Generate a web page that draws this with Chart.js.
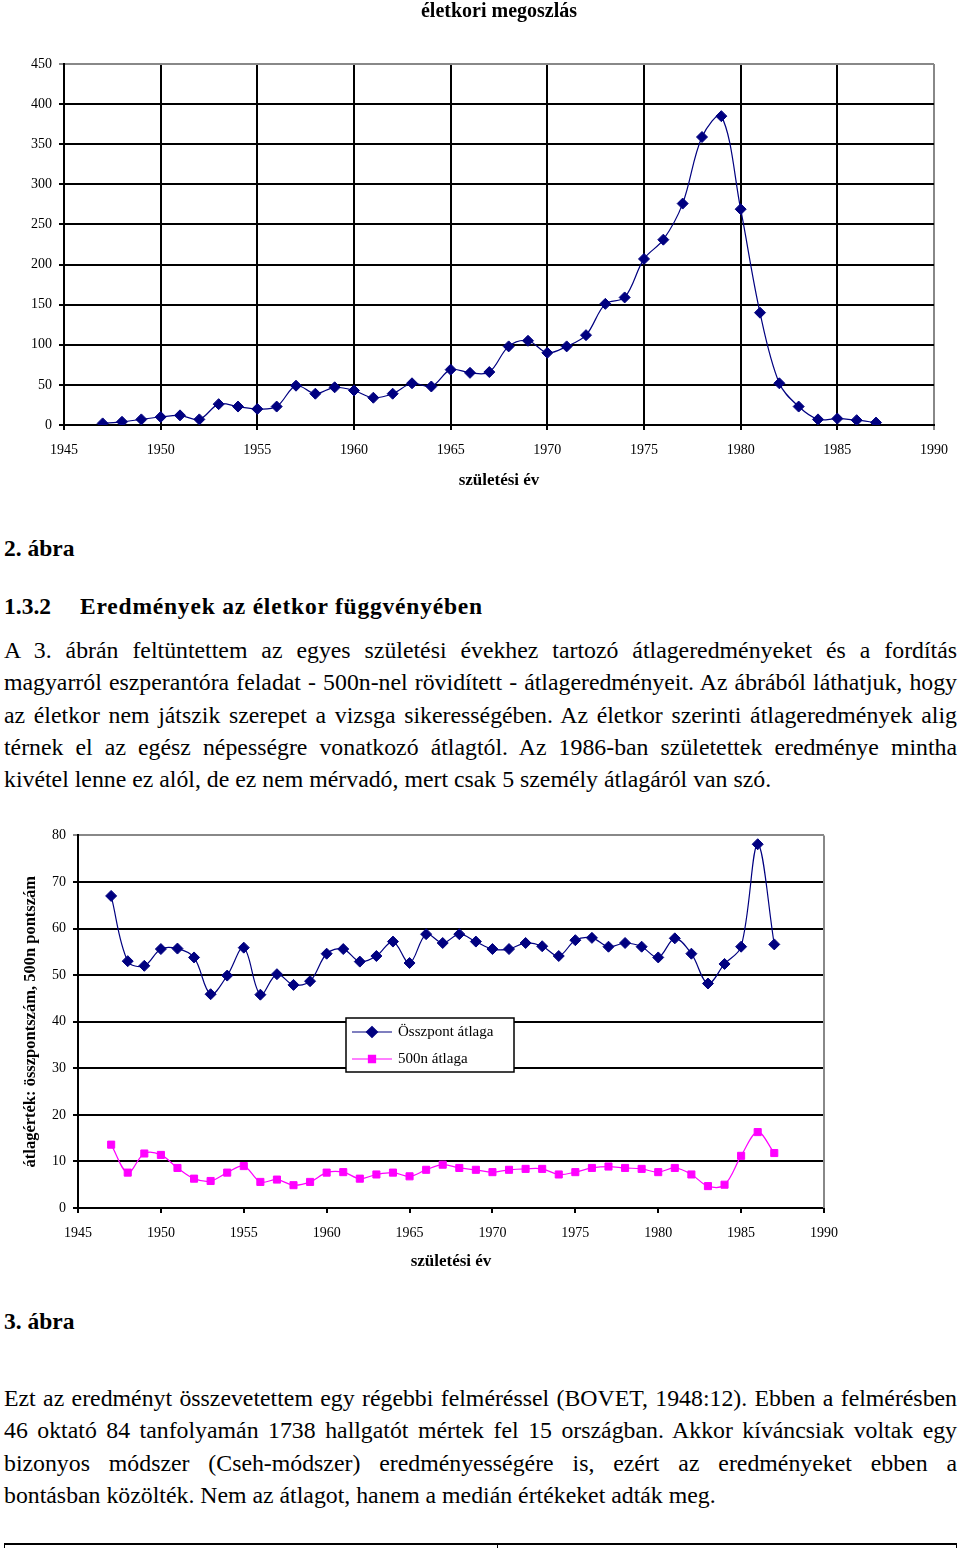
<!DOCTYPE html>
<html>
<head>
<meta charset="utf-8">
<script src="https://cdn.jsdelivr.net/npm/chart.js@4"></script>
<style>
 body{margin:0;background:#fff;width:960px;height:1550px;position:relative;font-family:"Liberation Serif","Times New Roman",serif;color:#000;}
 .abs{position:absolute;}
 #c1wrap{left:0;top:0;width:960px;height:500px;}
 #c2wrap{left:0;top:820px;width:960px;height:470px;}
 .cap{font-weight:bold;font-size:23.5px;line-height:28px;left:4px;}
 .para{left:4px;width:953px;font-size:23.8px;line-height:32.3px;}
 .para div{white-space:nowrap;text-align:justify;text-align-last:justify;}
 .para div.last{text-align-last:left;}
 #rule{left:4px;top:1543px;width:953px;height:0;border-top:2px solid #000;}
 .tk{top:1543px;width:1px;height:5px;background:#000;}
</style>
</head>
<body>
<div id="c1wrap" class="abs"><canvas id="ageChart"></canvas></div>

<div class="abs cap" style="top:534px">2. ábra</div>
<div class="abs cap" style="top:592px">1.3.2<span style="position:absolute;left:76px;white-space:nowrap;letter-spacing:0.8px">Eredmények az életkor függvényében</span></div>

<div class="abs para" style="top:634px">
 <div>A 3. ábrán feltüntettem az egyes születési évekhez tartozó átlageredményeket és a fordítás</div>
 <div>magyarról eszperantóra feladat - 500n-nel rövidített - átlageredményeit. Az ábrából láthatjuk, hogy</div>
 <div>az életkor nem játszik szerepet a vizsga sikerességében. Az életkor szerinti átlageredmények alig</div>
 <div>térnek el az egész népességre vonatkozó átlagtól. Az 1986-ban születettek eredménye mintha</div>
 <div class="last">kivétel lenne ez alól, de ez nem mérvadó, mert csak 5 személy átlagáról van szó.</div>
</div>

<div id="c2wrap" class="abs"><canvas id="scoreChart"></canvas></div>

<div class="abs cap" style="top:1307px">3. ábra</div>

<div class="abs para" style="top:1382px">
 <div>Ezt az eredményt összevetettem egy régebbi felméréssel (BOVET, 1948:12). Ebben a felmérésben</div>
 <div>46 oktató 84 tanfolyamán 1738 hallgatót mértek fel 15 országban. Akkor kíváncsiak voltak egy</div>
 <div>bizonyos módszer (Cseh-módszer) eredményességére is, ezért az eredményeket ebben a</div>
 <div class="last">bontásban közölték. Nem az átlagot, hanem a medián értékeket adták meg.</div>
</div>

<div id="rule" class="abs"></div>
<div class="abs tk" style="left:4px"></div>
<div class="abs tk" style="left:497px"></div>
<div class="abs tk" style="left:956px"></div>

<script>
// születési évek
const years=[1947,1948,1949,1950,1951,1952,1953,1954,1955,1956,1957,1958,1959,1960,1961,1962,1963,1964,1965,1966,1967,
 1968,1969,1970,1971,1972,1973,1974,1975,1976,1977,1978,1979,1980,1981,1982,1983,1984,1985,1986,1987];
// 2. ábra: létszám évenként
const counts=[2,4,7,10,12,7,26,23,20,23,49,39,47,43,34,39,52,48,69,65,66,
 98,105,90,98,112,151,159,207,231,276,359,385,269,140,52,23,7,8,6,3];
// 3. ábra
const totalAvg=[67.0,53.0,52.0,55.6,55.7,53.8,45.9,49.9,55.9,45.8,50.2,47.9,48.7,54.6,55.6,52.9,54.1,57.2,52.6,58.8,56.9,
 58.8,57.2,55.6,55.6,56.9,56.2,54.1,57.5,58.0,56.1,56.9,56.1,53.8,57.9,54.6,48.2,52.4,56.1,78.1,56.6];
const avg500=[13.6,7.6,11.7,11.4,8.6,6.3,5.8,7.6,9.0,5.6,6.1,4.9,5.6,7.6,7.7,6.3,7.2,7.6,6.8,8.2,9.3,
 8.6,8.2,7.7,8.2,8.4,8.4,7.2,7.7,8.6,8.9,8.6,8.4,7.7,8.6,7.2,4.7,5.0,11.2,16.3,11.8];
const seriesNames=["Összpont átlaga","500n átlaga"];
const yTicks1=[0,50,100,150,200,250,300,350,400,450];
const yTicks2=[0,10,20,30,40,50,60,70,80];
const xTicks=[1945,1950,1955,1960,1965,1970,1975,1980,1985,1990];

const navy="#000080";
const pink="#ff00ff";
const serif='"Liberation Serif","Times New Roman",serif';
const tickFont={family:serif,size:14};
const boldFont={family:serif,size:17,weight:"bold"};

function pts(vals){return years.map((y,i)=>({x:y,y:vals[i]}));}

function xScale(gridOnArea,height){
 return {
  type:"linear",min:1945,max:1990,
  afterBuildTicks:s=>{s.ticks=xTicks.map(v=>({value:v}));},
  afterFit:s=>{s.height=height;},
  ticks:{color:"#000",font:tickFont,padding:12,maxRotation:0,autoSkip:false,callback:v=>String(v)},
  grid:{drawOnChartArea:gridOnArea,tickLength:5,lineWidth:2,color:c=>c.tick&&c.tick.value==1990&&gridOnArea?"#888":"#000"},
  border:{color:"#000",width:2},
  title:{display:true,text:"születési év",color:"#000",font:boldFont,padding:{top:8}}
 };
}

function yScale(ticks,width,title){
 const s={
  min:ticks[0],max:ticks[ticks.length-1],
  afterBuildTicks:sc=>{sc.ticks=ticks.map(v=>({value:v}));},
  afterFit:sc=>{sc.width=width;},
  ticks:{color:"#000",font:tickFont,padding:7},
  grid:{tickLength:5,lineWidth:2,color:c=>c.tick&&c.tick.value==ticks[ticks.length-1]?"#888":"#000"},
  border:{color:"#000",width:2}
 };
 if(title)s.title={display:true,text:title,color:"#000",font:{family:serif,size:16.5,weight:"bold"},padding:{top:21,bottom:0}};
 return s;
}

new Chart(document.getElementById("ageChart"),{
 type:"line",
 data:{datasets:[{
  data:pts(counts),borderColor:navy,backgroundColor:navy,borderWidth:1.2,tension:0.35,
  pointStyle:"rectRot",pointRadius:5.5,pointBorderWidth:1
 }]},
 options:{
  responsive:true,maintainAspectRatio:false,animation:false,
  layout:{padding:{left:0,right:25,top:0,bottom:5}},
  plugins:{
   legend:{display:false},tooltip:{enabled:false},
   title:{display:true,fullSize:false,text:"életkori megoszlás",color:"#000",font:{family:serif,size:20,weight:"bold"},padding:{top:0,bottom:40}}
  },
  scales:{x:xScale(true,70),y:yScale(yTicks1,64)}
 }
});

const legendBox={
 id:"legendBox",
 afterDraw(chart){
  const ctx=chart.ctx;
  const bx=346,by=198,bw=168,bh=54;
  ctx.save();
  ctx.fillStyle="#fff";ctx.fillRect(bx,by,bw,bh);
  ctx.strokeStyle="#000";ctx.lineWidth=1.5;ctx.strokeRect(bx,by,bw,bh);
  chart.data.datasets.forEach((ds,i)=>{
   const y=by+14+i*27;
   ctx.strokeStyle=ds.borderColor;ctx.lineWidth=1.2;
   ctx.beginPath();ctx.moveTo(bx+6,y);ctx.lineTo(bx+46,y);ctx.stroke();
   ctx.fillStyle=ds.backgroundColor;
   Chart.helpers.drawPoint(ctx,{pointStyle:ds.pointStyle,radius:ds.pointRadius,rotation:0,borderWidth:1},bx+26,y);
   ctx.fillStyle="#000";ctx.font="15px "+serif;ctx.textBaseline="middle";ctx.textAlign="left";
   ctx.fillText(ds.label,bx+52,y);
  });
  // jobb oldali keret
  const a=chart.chartArea;
  ctx.strokeStyle="#888";ctx.lineWidth=2;
  ctx.beginPath();ctx.moveTo(a.right,a.top);ctx.lineTo(a.right,a.bottom);ctx.stroke();
  ctx.restore();
 }
};

new Chart(document.getElementById("scoreChart"),{
 type:"line",
 data:{datasets:[
  {label:seriesNames[0],data:pts(totalAvg),borderColor:navy,backgroundColor:navy,borderWidth:1.2,tension:0.35,
   pointStyle:"rectRot",pointRadius:5.5,pointBorderWidth:1},
  {label:seriesNames[1],data:pts(avg500),borderColor:pink,backgroundColor:pink,borderWidth:1.2,tension:0.35,
   pointStyle:"rect",pointRadius:5,pointBorderWidth:1}
 ]},
 options:{
  responsive:true,maintainAspectRatio:false,animation:false,
  layout:{padding:{left:0,right:136,top:15,bottom:14}},
  plugins:{legend:{display:false},tooltip:{enabled:false}},
  scales:{x:xScale(false,68),y:yScale(yTicks2,78,"átlagérték: összpontszám, 500n pontszám")}
 },
 plugins:[legendBox]
});
</script>
</body>
</html>
